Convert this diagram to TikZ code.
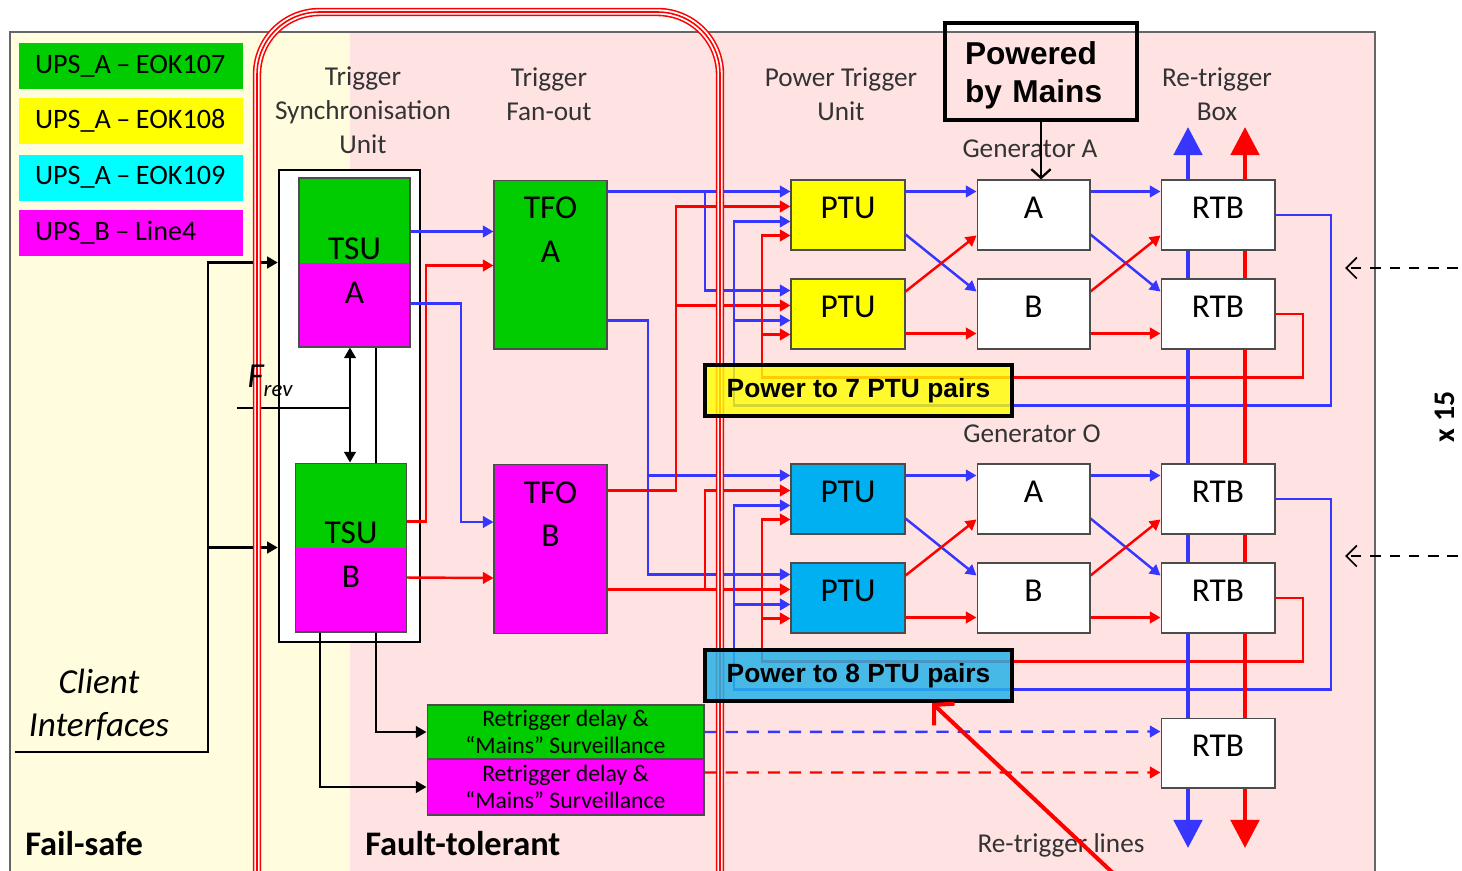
\documentclass[tikz,border=0pt]{standalone}
\usepackage{fontspec}
\setmainfont{Carlito}
\newfontfamily\arialfont{Liberation Sans}
\usetikzlibrary{arrows.meta, positioning, calc}

\definecolor{upsgreen}{HTML}{00CC00}
\definecolor{upsyellow}{HTML}{FFFF00}
\definecolor{upscyan}{HTML}{00FFFF}
\definecolor{upsmag}{HTML}{FF00FF}
\definecolor{ptublue}{HTML}{00B0F0}
\definecolor{lineblue}{HTML}{3636FF}
\definecolor{bgyellow}{HTML}{FFFDDD}
\definecolor{bgpink}{HTML}{FFE3E3}
\definecolor{p8blue}{HTML}{27B2E8}

\pgfdeclarelayer{bg}
\pgfdeclarelayer{wires}
\pgfsetlayers{bg,wires,main}

\newcommand{\upsdash}{\hspace{0.2em}–\hspace{0.2em}}

\tikzset{
  wire/.style={line width=1.4pt},
  bl/.style={wire, draw=lineblue},
  rd/.style={wire, draw=red},
  blk/.style={wire, draw=black},
  arr/.style={-{Triangle[length=6pt,width=6.5pt]}},
  dashline/.style={dash pattern=on 7pt off 5pt},
  unitbox/.style={draw=black!70, line width=0.6pt, minimum width=2.28cm, minimum height=1.4cm,
    inner sep=0, text depth=8pt, font=\fontsize{19}{24}\selectfont},
  tallbox/.style={draw=black!70, line width=0.6pt, minimum width=2.24cm, minimum height=3.38cm, inner sep=0},
  boxtext/.style={inner sep=0, align=center, font=\fontsize{19}{24.8}\selectfont},
  legendbox/.style={minimum width=4.48cm, minimum height=0.92cm, inner xsep=0.32cm, inner ysep=0,
    text width=3.84cm, align=left, font=\fontsize{16}{19}\selectfont},
  hdr/.style={inner sep=0, align=center, text=black!80, font=\fontsize{15.5}{19.3}\selectfont},
  powerbox/.style={draw=black, line width=2.3pt, minimum width=6.14cm, minimum height=1.02cm,
    inner sep=0, font=\arialfont\bfseries\fontsize{15}{18}\selectfont},
  rdbox/.style={draw=black!70, line width=0.6pt, minimum width=5.54cm, inner sep=0, align=center,
    font=\fontsize{13.5}{15.3}\selectfont},
}

\begin{document}
\begin{tikzpicture}[x=0.02cm, y=-0.02cm]
    \useasboundingbox (0,0) rectangle (1462,870);

    % background: fail-safe / fault-tolerant areas
    \begin{pgfonlayer}{bg}
        \fill[bgyellow] (10,32) rectangle (350,880);
        \fill[bgpink] (350,32) rectangle (1375,880);
        \draw[black!60, line width=0.8pt] (10,880) -- (10,32) -- (1375,32) -- (1375,880);
        \node[draw=black, line width=1.4pt, fill=white, minimum width=2.82cm, minimum height=9.44cm] (TSUF) at (349.5,406) {};
    \end{pgfonlayer}

    % legend
    \node[legendbox, fill=upsgreen] (L1) at (131,66) {\mbox{UPS\_A\upsdash EOK107}};
    \node[legendbox, fill=upsyellow] (L2) at (131,121) {\mbox{UPS\_A\upsdash EOK108}};
    \node[legendbox, fill=upscyan] (L3) at (131,177.5) {\mbox{UPS\_A\upsdash EOK109}};
    \node[legendbox, fill=upsmag] (L4) at (131,233) {\mbox{UPS\_B\upsdash Line4}};

    % headings
    \node[hdr] (hTSU) at (363,110) {Trigger\\Synchronisation\\Unit};
    \node[hdr] (hTFO) at (549,94) {Trigger\\Fan-out};
    \node[hdr] (hPTU) at (841,94) {Power Trigger\\Unit};
    \node[hdr] (hRTB) at (1217,94) {Re-trigger\\Box};
    \node[hdr] (hGA) at (1030,149) {Generator A};
    \node[hdr] (hGO) at (1032,434) {Generator O};
    \node[hdr] (hRTL) at (1061,845) {Re-trigger lines};
    \node[inner sep=0, align=center, font=\itshape\fontsize{20}{24.4}\selectfont] (ci) at (99,705) {Client\\Interfaces};
    \node[anchor=west, inner sep=0, font=\bfseries\fontsize{19.6}{24}\selectfont] (fs) at (25,844) {Fail-safe};
    \node[anchor=west, inner sep=0, font=\bfseries\fontsize{19.6}{24}\selectfont] (ft) at (365,844) {Fault-tolerant};
    \node[inner sep=0, font=\itshape\fontsize{20}{24}\selectfont] (frev) at (270,381) {F\raisebox{-0.5ex}{\fontsize{13}{15}\selectfont rev}};
    \node[rotate=90, anchor=base, inner sep=0, font=\bfseries\fontsize{17}{20}\selectfont] (xfifteen) at (1454,417) {x 15};

    % trigger synchronisation and fan-out
    \node[tallbox, minimum width=2.22cm, fill=upsgreen,
        path picture={\fill[upsmag] (path picture bounding box.west) rectangle (path picture bounding box.south east);}] (TSUA) at (354.5,262.5) {};
    \node[boxtext, below=1.2cm of TSUA.north] (tTSUA) {TSU\\A};
    \node[tallbox, minimum width=2.22cm, fill=upsgreen,
        path picture={\fill[upsmag] (path picture bounding box.west) rectangle (path picture bounding box.south east);}] (TSUB) at (351,547.5) {};
    \node[boxtext, below=1.18cm of TSUB.north] (tTSUB) {TSU\\B};
    \node[tallbox, minimum width=2.26cm, fill=upsgreen] (TFOA) at (550.5,264.5) {};
    \node[boxtext, below=0.34cm of TFOA.north] (tTFOA) {TFO\\A};
    \node[tallbox, minimum width=2.26cm, fill=upsmag] (TFOB) at (550.5,549) {};
    \node[boxtext, below=0.34cm of TFOB.north] (tTFOB) {TFO\\B};

    % power trigger units, generators, re-trigger boxes
    \node[unitbox, fill=upsyellow] (PTU1) at (848,215) {PTU};
    \node[unitbox, fill=upsyellow] (PTU2) at (848,314) {PTU};
    \node[unitbox, fill=ptublue] (PTU3) at (848,499) {PTU};
    \node[unitbox, fill=ptublue] (PTU4) at (848,598) {PTU};
    \node[unitbox, fill=white, minimum width=2.26cm] (GA1) at (1033.5,215) {A};
    \node[unitbox, fill=white, minimum width=2.26cm] (GB1) at (1033.5,314) {B};
    \node[unitbox, fill=white, minimum width=2.26cm] (GA2) at (1033.5,499) {A};
    \node[unitbox, fill=white, minimum width=2.26cm] (GB2) at (1033.5,598) {B};
    \node[unitbox, fill=white] (RTB1) at (1218,215) {RTB};
    \node[unitbox, fill=white] (RTB2) at (1218,314) {RTB};
    \node[unitbox, fill=white] (RTB3) at (1218,499) {RTB};
    \node[unitbox, fill=white] (RTB4) at (1218,598) {RTB};
    \node[unitbox, fill=white] (RTB5) at (1218,753) {RTB};

    % retrigger delay
    \node[rdbox, fill=upsgreen, minimum height=1.08cm] (RDA) at (565.5,732) {Retrigger delay \&\\“Mains” Surveillance};
    \node[rdbox, fill=upsmag, minimum height=1.12cm] (RDB) at (565.5,787) {Retrigger delay \&\\“Mains” Surveillance};

    % labels in boxes
    \node[draw=black, line width=2.3pt, minimum width=3.84cm, minimum height=1.94cm, inner xsep=0.4cm,
        text width=3.04cm, text depth=21pt, align=left, font=\arialfont\bfseries\fontsize{18}{21.5}\selectfont] (PBM) at (1041,71.5) {Powered\\by Mains};
    \node[powerbox, fill=upsyellow, fill opacity=0.8, text opacity=1] (P7) at (858.5,390.5) {Power to 7 PTU pairs};
    \node[powerbox, fill=p8blue, fill opacity=0.85, text opacity=1] (P8) at (858.5,675.5) {Power to 8 PTU pairs};

    % inputs of the PTUs
    \foreach \p in {PTU1,PTU2,PTU3,PTU4} {
        \coordinate (\p-in1) at ($(\p.north west)+(0,12)$);
        \coordinate (\p-in2) at ($(\p.north west)+(0,27)$);
        \coordinate (\p-in3) at ($(\p.north west)+(0,42)$);
        \coordinate (\p-in4) at ($(\p.north west)+(0,56)$);
    }
    \coordinate (xA1) at (705,0);
    \coordinate (xA2) at (648,0);
    \coordinate (xB1) at (676,0);
    \coordinate (xL1) at (734,0);
    \coordinate (xL2) at (762,0);
    \coordinate (xR1) at (1331,0);
    \coordinate (xR2) at (1303,0);
    \coordinate (xT0) at (350,0);
    \coordinate (xT1) at (376,0);
    \coordinate (xT2) at (320,0);
    \coordinate (xS1) at (426,0);
    \coordinate (xS2) at (461,0);
    \coordinate (cibus) at (208,0);
    \coordinate (ciend) at (15,752);
    \coordinate (frevend) at (237,408);
    \coordinate (busBtop) at (1188,127);
    \coordinate (busBbot) at (1188,848);
    \coordinate (busRtop) at (1245,127);
    \coordinate (busRbot) at (1245,848);
    \coordinate (rep1) at (1458,268);
    \coordinate (rep1e) at (1345,268);
    \coordinate (rep2) at (1458,556);
    \coordinate (rep2e) at (1345,556);
    \coordinate (ptrstart) at (1114,874);
    \coordinate (ptrend) at (932,703);

    \begin{pgfonlayer}{wires}
        % client interfaces
        \draw[blk, arr] (ciend) -- (cibus |- ciend) -- (cibus |- TSUA) -- (TSUF.west |- TSUA);
        \draw[blk, arr] (cibus |- TSUB) -- (TSUF.west |- TSUB);
        % between the TSUs
        \draw[blk, {Triangle[length=6pt,width=6.5pt]}-{Triangle[length=6pt,width=6.5pt]}] (xT0 |- TSUA.south) -- (xT0 |- TSUB.north);
        \draw[blk] (xT1 |- TSUA.south) -- (xT1 |- TSUB.north);
        \draw[blk] (frevend) -- (xT0 |- frevend);
        % TSU to retrigger delay
        \draw[blk, arr] (xT1 |- TSUB.south) -- (xT1 |- RDA.west) -- (RDA.west);
        \draw[blk, arr] (xT2 |- TSUB.south) -- (xT2 |- RDB.west) -- (RDB.west);

        % TSU to TFO
        \draw[bl, arr] ($(TSUA.north east)+(0,54)$) -- ($(TFOA.north west)+(0,52)$);
        \draw[rd, arr] ($(TSUB.north east)+(0,59)$) -- ($(xS1 |- TSUB.north)+(0,59)$) -- ($(xS1 |- TFOA.north)+(0,86)$) -- ($(TFOA.north west)+(0,86)$);
        \draw[bl, arr] ($(TSUA.north east)+(0,126)$) -- ($(xS2 |- TSUA.north)+(0,126)$) -- ($(xS2 |- TFOB.north)+(0,58)$) -- ($(TFOB.north west)+(0,58)$);
        \draw[rd, arr] ($(TSUB.north east)+(0,115)$) -- ($(TFOB.north west)+(0,114)$);

        % TFO to PTU
        \draw[bl, arr] (TFOA.east |- PTU1-in1) -- (PTU1-in1);
        \draw[bl, arr] (xA1 |- PTU1-in1) -- (xA1 |- PTU2-in1) -- (PTU2-in1);
        \draw[bl, arr] ($(TFOA.north east)+(0,141)$) -- ($(xA2 |- TFOA.north)+(0,141)$) -- (xA2 |- PTU4-in1) -- (PTU4-in1);
        \draw[bl, arr] (xA2 |- PTU3-in1) -- (PTU3-in1);
        \draw[rd, arr] (TFOB.east |- PTU3-in2) -- (xB1 |- PTU3-in2) -- (xB1 |- PTU1-in2) -- (PTU1-in2);
        \draw[rd, arr] (xB1 |- PTU2-in2) -- (PTU2-in2);
        \draw[rd, arr] (TFOB.east |- PTU4-in2) -- (PTU4-in2);
        \draw[rd, arr] (xA1 |- PTU4-in2) -- (xA1 |- PTU3-in2) -- (PTU3-in2);

        % PTU to generator to RTB, and the RTB loops back
        \foreach \u/\l/\ga/\gb/\ra/\rb in {PTU1/PTU2/GA1/GB1/RTB1/RTB2, PTU3/PTU4/GA2/GB2/RTB3/RTB4} {
            \draw[bl, arr] ($(\u.north east)+(0,12)$) -- ($(\ga.north west)+(0,12)$);
            \draw[bl, arr] ($(\u.north east)+(0,55)$) -- ($(\gb.north west)+(0,13)$);
            \draw[rd, arr] ($(\l.north east)+(0,13)$) -- ($(\ga.north west)+(0,56)$);
            \draw[rd, arr] ($(\l.north east)+(0,55)$) -- ($(\gb.north west)+(0,55)$);
            \draw[bl, arr] ($(\ga.north east)+(0,12)$) -- ($(\ra.north west)+(0,12)$);
            \draw[bl, arr] ($(\ga.north east)+(0,55)$) -- ($(\rb.north west)+(0,13)$);
            \draw[rd, arr] ($(\gb.north east)+(0,13)$) -- ($(\ra.north west)+(0,56)$);
            \draw[rd, arr] ($(\gb.north east)+(0,55)$) -- ($(\rb.north west)+(0,55)$);
            \draw[bl, arr] (\ra.east) -- (xR1 |- \ra.east) -- ($(xR1 |- \rb.south)+(0,56)$)
                -- ($(xL1 |- \rb.south)+(0,56)$) -- (xL1 |- \u-in3) -- (\u-in3);
            \draw[bl, arr] (xL1 |- \l-in3) -- (\l-in3);
            \draw[rd, arr] (\rb.east) -- (xR2 |- \rb.east) -- ($(xR2 |- \rb.south)+(0,28)$)
                -- ($(xL2 |- \rb.south)+(0,28)$) -- (xL2 |- \u-in4) -- (\u-in4);
            \draw[rd, arr] (xL2 |- \l-in4) -- (\l-in4);
        }

        % retrigger delay to last RTB
        \draw[bl, dashline, arr] (RDA.east) -- ($(RTB5.north west)+(0,14)$);
        \draw[rd, dashline, arr] ($(RDB.north east)+(0,14)$) -- ($(RTB5.north west)+(0,55)$);

        % re-trigger lines
        \draw[line width=2.8pt, draw=lineblue, {Triangle[length=16pt,width=16pt]}-{Triangle[length=16pt,width=16pt]}] (busBbot) -- (busBtop);
        \draw[line width=2.8pt, draw=red, {Triangle[length=16pt,width=16pt]}-{Triangle[length=16pt,width=16pt]}] (busRbot) -- (busRtop);

        % fault-tolerant boundary
        \foreach \w/\c in {4.8pt/red, 3pt/white, 0.9pt/red}
            \draw[line width=\w, draw=\c, rounded corners=1.25cm] (257,890) -- (257,12) -- (720,12) -- (720,890);
    \end{pgfonlayer}

    % pointers
    \draw[line width=1.3pt, -{Straight Barb[length=5pt,width=11pt]}] (PBM.south) -- (PBM.south |- GA1.north);
    \draw[line width=1pt, dash pattern=on 6pt off 5pt, -{Straight Barb[length=6pt,width=12pt]}] (rep1) -- (rep1e);
    \draw[line width=1pt, dash pattern=on 6pt off 5pt, -{Straight Barb[length=6pt,width=12pt]}] (rep2) -- (rep2e);
    \draw[line width=2.3pt, red, -{Straight Barb[length=8pt,width=17pt]}] (ptrstart) -- (ptrend);
\end{tikzpicture}
\end{document}
